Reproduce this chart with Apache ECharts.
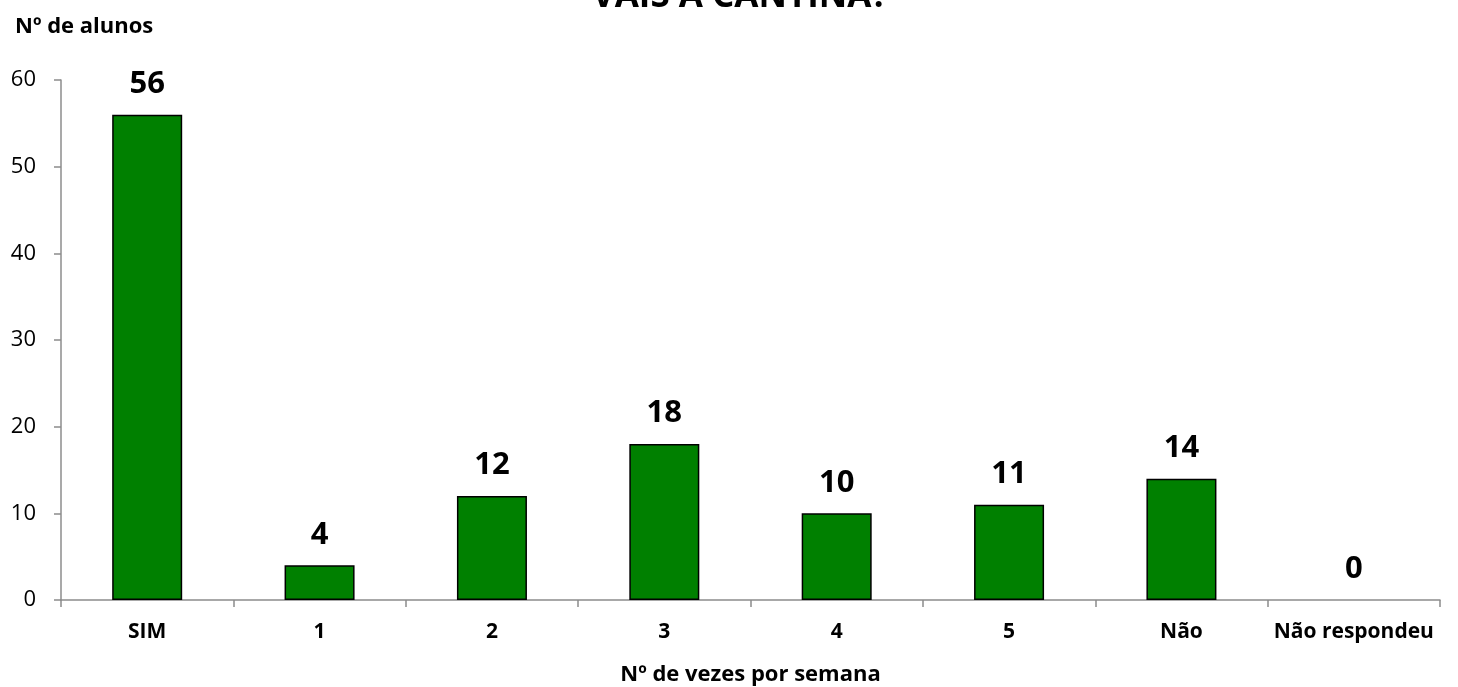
<!DOCTYPE html>
<html><head><meta charset="utf-8">
<script src="https://cdn.jsdelivr.net/npm/echarts@6/dist/echarts.min.js"></script>
<style>html,body{margin:0;padding:0;background:#fff}#c{width:1458px;height:687px}</style>
</head><body><div id="c"></div>
<script>
const categories = ['SIM', '1', '2', '3', '4', '5', 'Não', 'Não respondeu'];
const values = [56, 4, 12, 18, 10, 11, 14, 0];
const yTicks = [0, 10, 20, 30, 40, 50, 60];
const titleText = 'VAIS À CANTINA?';
const yName = 'Nº de alunos';
const xName = 'Nº de vezes por semana';

const F = '"Open Sans", sans-serif';
const chart = echarts.init(document.getElementById('c'), null, {renderer: 'canvas'});
chart.setOption({
  animation: false,
  title: {text: titleText, left: 735, top: -25, textAlign: 'center',
    textStyle: {fontFamily: F, fontSize: 35, fontWeight: 'bold', color: '#000'}},
  grid: {left: 61, right: 18, top: 80, bottom: 87, containLabel: false, outerBoundsMode: 'none'},
  xAxis: {
    type: 'category', data: categories,
    name: xName, nameLocation: 'middle', nameGap: 64,
    nameTextStyle: {fontFamily: F, fontSize: 22, fontWeight: 'bold', color: '#000'},
    axisLine: {lineStyle: {color: '#8c8c8c', width: 1.5}},
    axisTick: {show: true, length: 7, alignWithLabel: false, lineStyle: {color: '#8c8c8c', width: 1.5}},
    axisLabel: {fontFamily: F, fontSize: 21, fontWeight: 'bold', color: '#000', margin: 22, interval: 0}
  },
  yAxis: {
    type: 'value', min: yTicks[0], max: yTicks[yTicks.length - 1], interval: 10,
    name: yName, nameLocation: 'end', nameGap: 0,
    nameTextStyle: {fontFamily: F, fontSize: 22, fontWeight: 'bold', color: '#000', align: 'left', padding: [0, 0, 42, -46]},
    axisLine: {show: true, lineStyle: {color: '#8c8c8c', width: 1.5}},
    axisTick: {show: true, length: 7, lineStyle: {color: '#8c8c8c', width: 1.5}},
    splitLine: {show: false},
    axisLabel: {fontFamily: F, fontSize: 22, color: '#000', margin: 25}
  },
  series: [{
    type: 'bar', barWidth: 70,
    data: values.map(v => v === 0 ? {value: v, itemStyle: {borderWidth: 0}} : v),
    itemStyle: {color: '#008000', borderColor: '#000', borderWidth: 1.5},
    label: {show: true, position: 'top', distance: 15, fontFamily: F, fontSize: 31, fontWeight: 'bold', color: '#000'}
  }]
});
</script></body></html>
